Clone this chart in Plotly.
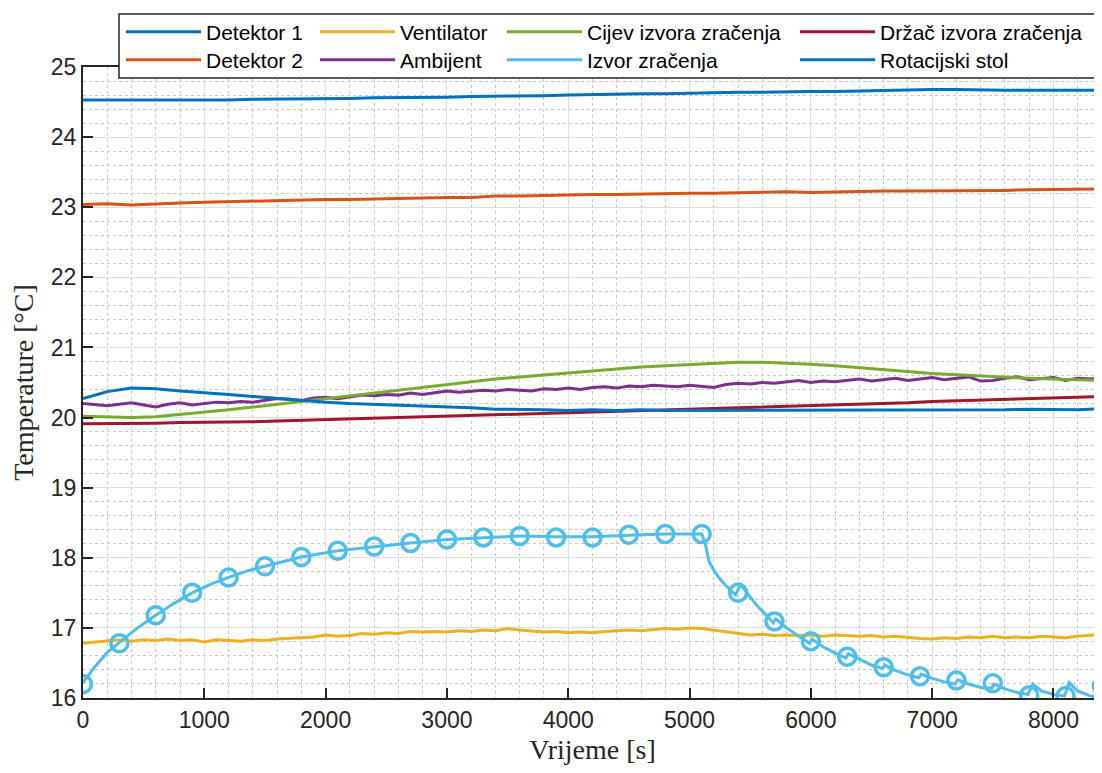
import plotly.graph_objects as go

# ---------------- data ----------------
T200 = [0, 200, 400, 600, 800, 1000, 1200, 1400, 1600, 1800, 2000, 2200, 2400, 2600, 2800,
        3000, 3200, 3400, 3600, 3800, 4000, 4200, 4400, 4600, 4800, 5000, 5200, 5400, 5600,
        5800, 6000, 6200, 6400, 6600, 6800, 7000, 7200, 7400, 7600, 7800, 8000, 8200, 8400]
T100 = list(range(0, 8401, 100))

detektor1 = [24.53, 24.53, 24.52, 24.52, 24.52, 24.53, 24.53, 24.54, 24.54, 24.55, 24.55, 24.55,
             24.56, 24.56, 24.57, 24.57, 24.58, 24.58, 24.59, 24.59, 24.60, 24.61, 24.61, 24.62,
             24.62, 24.63, 24.63, 24.64, 24.64, 24.65, 24.65, 24.65, 24.66, 24.66, 24.67, 24.68,
             24.68, 24.67, 24.67, 24.67, 24.67, 24.67, 24.67]
detektor2 = [23.04, 23.05, 23.03, 23.05, 23.06, 23.07, 23.08, 23.08, 23.09, 23.10, 23.11, 23.11,
             23.12, 23.12, 23.13, 23.14, 23.14, 23.16, 23.16, 23.17, 23.17, 23.18, 23.18, 23.19,
             23.19, 23.20, 23.20, 23.21, 23.21, 23.22, 23.21, 23.22, 23.22, 23.23, 23.23, 23.23,
             23.24, 23.24, 23.24, 23.25, 23.25, 23.25, 23.26]
ventilator = [16.78, 16.80, 16.81, 16.83, 16.81, 16.83, 16.82, 16.84, 16.82, 16.83, 16.80, 16.83,
              16.82, 16.81, 16.83, 16.82, 16.84, 16.85, 16.86, 16.87, 16.90, 16.88, 16.89, 16.92,
              16.91, 16.93, 16.92, 16.95, 16.94, 16.95, 16.94, 16.96, 16.95, 16.97, 16.96, 16.99,
              16.97, 16.96, 16.94, 16.95, 16.93, 16.94, 16.93, 16.95, 16.96, 16.97, 16.96, 16.98,
              16.99, 16.98, 17.00, 16.99, 16.97, 16.95, 16.92, 16.90, 16.91, 16.89, 16.90, 16.89,
              16.90, 16.88, 16.90, 16.89, 16.88, 16.89, 16.87, 16.88, 16.86, 16.85, 16.84, 16.86,
              16.85, 16.87, 16.86, 16.88, 16.86, 16.87, 16.86, 16.88, 16.87, 16.86, 16.88, 16.89,
              16.91]
ambijent = [20.20, 20.18, 20.17, 20.19, 20.21, 20.18, 20.15, 20.19, 20.21, 20.18, 20.20, 20.22,
            20.21, 20.23, 20.22, 20.25, 20.27, 20.26, 20.24, 20.28, 20.29, 20.27, 20.30, 20.32,
            20.31, 20.33, 20.32, 20.35, 20.33, 20.36, 20.38, 20.36, 20.37, 20.39, 20.38, 20.40,
            20.39, 20.38, 20.41, 20.40, 20.42, 20.40, 20.43, 20.44, 20.42, 20.45, 20.44, 20.46,
            20.45, 20.44, 20.46, 20.45, 20.43, 20.47, 20.49, 20.48, 20.50, 20.49, 20.51, 20.53,
            20.50, 20.52, 20.51, 20.53, 20.55, 20.52, 20.54, 20.56, 20.53, 20.55, 20.57, 20.54,
            20.56, 20.58, 20.52, 20.53, 20.56, 20.58, 20.54, 20.55, 20.57, 20.53, 20.56, 20.55,
            20.56]
cijev = [20.02, 20.01, 20.00, 20.01, 20.04, 20.07, 20.11, 20.15, 20.19, 20.23, 20.27, 20.31,
         20.36, 20.40, 20.44, 20.48, 20.51, 20.55, 20.58, 20.61, 20.64, 20.67, 20.69, 20.72,
         20.74, 20.76, 20.78, 20.79, 20.79, 20.78, 20.76, 20.74, 20.71, 20.69, 20.66, 20.63,
         20.61, 20.59, 20.57, 20.56, 20.55, 20.54, 20.53]
drzac = [19.91, 19.91, 19.92, 19.92, 19.93, 19.93, 19.94, 19.94, 19.95, 19.96, 19.96, 19.97,
         19.98, 19.99, 20.00, 20.01, 20.02, 20.03, 20.04, 20.05, 20.06, 20.07, 20.08, 20.09,
         20.10, 20.11, 20.12, 20.14, 20.15, 20.16, 20.17, 20.18, 20.19, 20.20, 20.21, 20.23,
         20.24, 20.25, 20.26, 20.27, 20.28, 20.29, 20.30]
rotacijski = [20.27, 20.37, 20.42, 20.41, 20.38, 20.36, 20.33, 20.30, 20.27, 20.25, 20.22, 20.20,
              20.19, 20.17, 20.16, 20.15, 20.14, 20.12, 20.12, 20.11, 20.10, 20.11, 20.10, 20.11,
              20.10, 20.10, 20.11, 20.10, 20.10, 20.11, 20.10, 20.10, 20.11, 20.10, 20.11, 20.10,
              20.11, 20.11, 20.11, 20.12, 20.12, 20.11, 20.13]

# Izvor zračenja: continuous curve
izvor_t = [0, 100, 200, 300, 450, 600, 750, 900, 1050, 1200, 1350, 1500, 1650, 1800, 2100, 2400,
           2700, 3000, 3300, 3600, 3900, 4200, 4500, 4800, 5100, 5130, 5160, 5200, 5250, 5300,
           5380, 5420, 5450, 5550, 5650, 5690, 5710, 5800, 5900, 5990, 6010, 6100, 6200, 6290,
           6310, 6400, 6500, 6590, 6610, 6700, 6800, 6890, 6910, 7000, 7100, 7190, 7210, 7300,
           7400, 7490, 7510, 7600, 7700, 7790, 7830, 7900, 8000, 8090, 8130, 8200, 8300, 8400]
izvor_v = [16.22, 16.45, 16.65, 16.79, 17.00, 17.18, 17.35, 17.50, 17.62, 17.72, 17.81, 17.88,
           17.95, 18.01, 18.10, 18.16, 18.21, 18.26, 18.29, 18.31, 18.30, 18.30, 18.32, 18.34,
           18.34, 18.20, 17.95, 17.82, 17.70, 17.60, 17.47, 17.62, 17.55, 17.33, 17.15, 17.07,
           17.13, 17.00, 16.88, 16.78, 16.84, 16.73, 16.64, 16.57, 16.63, 16.55, 16.47, 16.42,
           16.47, 16.39, 16.33, 16.29, 16.34, 16.28, 16.23, 16.20, 16.26, 16.20, 16.15, 16.14,
           16.20, 16.13, 16.08, 16.05, 16.20, 16.10, 16.05, 16.03, 16.22, 16.10, 16.03, 16.00]
# Izvor zračenja: sampled points (circles)
izvor_mt = [0, 300, 600, 900, 1200, 1500, 1800, 2100, 2400, 2700, 3000, 3300, 3600, 3900, 4200,
            4500, 4800, 5100, 5400, 5700, 6000, 6300, 6600, 6900, 7200, 7500, 7800, 8100, 8400]
izvor_mv = [16.20, 16.78, 17.18, 17.50, 17.72, 17.88, 18.01, 18.10, 18.16, 18.21, 18.26, 18.29,
            18.31, 18.29, 18.29, 18.33, 18.34, 18.34, 17.50, 17.09, 16.81, 16.59, 16.44, 16.31,
            16.25, 16.21, 16.04, 16.03, 16.17]

assert len(detektor1) == len(T200) == len(detektor2) == len(cijev) == len(drzac) == len(rotacijski)
assert len(ventilator) == len(T100) == len(ambijent)
assert len(izvor_t) == len(izvor_v) and len(izvor_mt) == len(izvor_mv)

names = ["Detektor 1", "Detektor 2", "Ventilator", "Ambijent",
         "Cijev izvora zračenja", "Izvor zračenja", "Držač izvora zračenja", "Rotacijski stol"]
colors = ["#0072BD", "#D95319", "#EDB120", "#7E2F8E", "#77AC30", "#4DBEEE", "#A2142F", "#0072BD"]
series = [(T200, detektor1), (T200, detektor2), (T100, ventilator), (T100, ambijent),
          (T200, cijev), (izvor_t, izvor_v), (T200, drzac), (T200, rotacijski)]

# legend grid: 4 columns x 2 rows (one plotly legend per entry)
W = 1019.0   # plot-area width in px
H = 631.0    # plot-area height in px
col_px = [121, 315, 502, 795]
row_px = [32, 60]
legend_ids = ["legend" if i == 0 else f"legend{i + 1}" for i in range(8)]

fig = go.Figure()
for i, (name, col, lg, (xs, ys)) in enumerate(zip(names, colors, legend_ids, series)):
    fig.add_trace(go.Scatter(x=xs, y=ys, mode="lines", name=name, legend=lg,
                             line=dict(color=col, width=3)))
    if name == "Izvor zračenja":
        fig.add_trace(go.Scatter(x=izvor_mt, y=izvor_mv, mode="markers", showlegend=False,
                                 marker=dict(symbol="circle-open", size=17, color=col,
                                             line=dict(width=3.5, color=col))))

AX = "#262626"
tickfont = dict(family="Liberation Sans, Arial, sans-serif", size=23, color=AX)
titlefont = dict(family="Liberation Serif, Times New Roman, serif", size=28, color=AX)

# page body has an 8px default margin; the figure is sized so the plot area lands
# at x 83..1102, y 67..698 in the browser window
fig.update_layout(
    width=1094, height=765,
    margin=dict(l=75, r=0, t=59, b=75, autoexpand=False),
    paper_bgcolor="white", plot_bgcolor="white",
    xaxis=dict(range=[0, 8400], dtick=1000, tick0=0, ticks="inside", ticklen=10, tickwidth=2,
               tickcolor=AX, showline=True, linecolor=AX, linewidth=2, mirror="ticks",
               showgrid=True, gridcolor="#dedede", gridwidth=1, zeroline=False,
               tickfont=tickfont, automargin=False,
               minor=dict(dtick=200, showgrid=True, gridcolor="#c8c8c8", griddash="dot",
                          gridwidth=1, ticks=""),
               title=dict(text="Vrijeme [s]", font=titlefont, standoff=8)),
    yaxis=dict(range=[16, 25], dtick=1, tick0=16, ticks="inside", ticklen=10, tickwidth=2,
               tickcolor=AX, showline=True, linecolor=AX, linewidth=2, mirror=False,
               showgrid=True, gridcolor="#dedede", gridwidth=1, zeroline=False,
               tickfont=tickfont, automargin=False,
               minor=dict(dtick=0.2, showgrid=True, gridcolor="#c8c8c8", griddash="dot",
                          gridwidth=1, ticks=""),
               title=dict(text="Temperature [°C]", font=titlefont, standoff=14)),
)

legfont = dict(family="Liberation Sans, Arial, sans-serif", size=21, color="black")
for i, lg in enumerate(legend_ids):
    cx = col_px[i // 2]
    ry = row_px[i % 2]
    fig.update_layout({lg: dict(x=(cx - 83) / W, y=(698 - ry) / H, xanchor="left",
                                yanchor="middle", orientation="v", font=legfont,
                                bgcolor="rgba(0,0,0,0)", borderwidth=0, itemwidth=75)})

fig.add_shape(type="rect", xref="paper", yref="paper",
              x0=(119 - 83) / W, x1=(1097 - 83) / W, y0=(698 - 78) / H, y1=(698 - 14) / H,
              line=dict(color="#262626", width=1.5), fillcolor="white", layer="above")

fig.write_html("out.html")
